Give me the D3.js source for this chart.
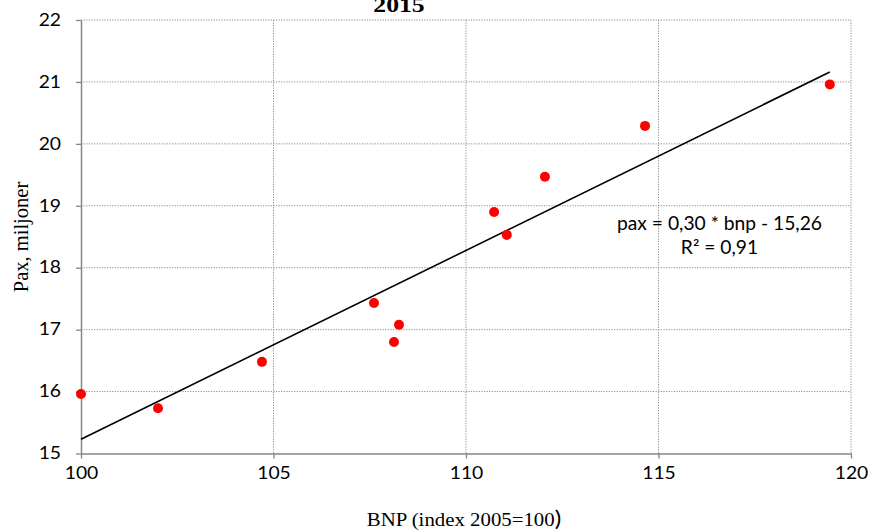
<!DOCTYPE html>
<html>
<head>
<meta charset="utf-8">
<script src="https://cdn.jsdelivr.net/npm/d3@7"></script>
<style>
  html, body { margin: 0; padding: 0; background: #fff; }
  svg { display: block; }
</style>
</head>
<body>
<svg id="chart" width="869" height="531"></svg>
<script>
// BNP index (2005 = 100) against passengers, millions
const bnp = [100.0, 102.0, 104.7, 107.61, 108.26, 108.13, 110.73, 111.06, 112.05, 114.65, 119.45];
const pax = [15.96, 15.73, 16.48, 17.43, 17.08, 16.80, 18.90, 18.53, 19.47, 20.29, 20.96];

// Linear trend line
const trendSlope = 0.3049;
const trendIntercept = -15.26;
const trendLabel = ["pax = 0,30 * bnp - 15,26", "R² = 0,91"];

const xTicks = [100, 105, 110, 115, 120];
const yTicks = [15, 16, 17, 18, 19, 20, 21, 22];

const titleText = "2015";
const xTitle = "BNP (index 2005=100";
const yTitle = "Pax, miljoner";

const svg = d3.select("#chart");
const plotLeft = 81, plotRight = 851, plotTop = 20, plotBottom = 453.5;

const x = d3.scaleLinear().domain([100, 120]).range([plotLeft, plotRight]);
const y = d3.scaleLinear().domain([15, 22]).range([plotBottom, plotTop]);

const sans = "Lato, 'Open Sans', sans-serif";
const serif = "'Liberation Serif', 'DejaVu Serif', serif";
const wide = 1.17; // horizontal widening of the lettering

// text placed at (tx, ty), widened horizontally around its anchor
function label(tx, ty, sx) {
  return svg.append("g").attr("transform", `translate(${tx},${ty}) scale(${sx},1)`)
    .append("text");
}

// dotted gridlines
const grid = svg.append("g");
grid.selectAll("line.h").data(yTicks.filter(d => d > 15)).join("line")
  .attr("x1", plotLeft).attr("x2", plotRight)
  .attr("y1", d => y(d)).attr("y2", d => y(d))
  .attr("stroke", "#8c8c8c").attr("stroke-width", 1)
  .attr("stroke-dasharray", "1.2,1.4");
grid.selectAll("line.v").data(xTicks.filter(d => d > 100)).join("line")
  .attr("x1", d => x(d)).attr("x2", d => x(d))
  .attr("y1", plotTop).attr("y2", plotBottom)
  .attr("stroke", "#8c8c8c").attr("stroke-width", 1)
  .attr("stroke-dasharray", "1.2,1.4");

// axes
const xAxis = svg.append("g")
  .attr("transform", `translate(0,${plotBottom})`)
  .call(d3.axisBottom(x).tickValues(xTicks).tickFormat(d3.format("d"))
    .tickSize(5).tickPadding(9).tickSizeOuter(0));
const yAxis = svg.append("g")
  .attr("transform", `translate(${plotLeft},0)`)
  .call(d3.axisLeft(y).tickValues(yTicks).tickFormat(d3.format("d"))
    .tickSize(5).tickPadding(18).tickSizeOuter(0));

[xAxis, yAxis].forEach(g => {
  g.select(".domain").attr("stroke", "#868686").attr("stroke-width", 1.5);
  g.selectAll(".tick line").attr("stroke", "#868686").attr("stroke-width", 1.3);
  g.selectAll(".tick text").attr("fill", "#000")
    .style("font-family", sans).style("font-size", "16.5px");
});
xAxis.selectAll(".tick text").attr("transform", `scale(${wide},1)`);
yAxis.selectAll(".tick text")
  .attr("x", -20 / wide)
  .attr("transform", `scale(${wide},1)`);

// trend line across the data range
const xExt = d3.extent(bnp);
svg.append("line")
  .attr("x1", x(xExt[0])).attr("y1", y(trendSlope * xExt[0] + trendIntercept))
  .attr("x2", x(xExt[1])).attr("y2", y(trendSlope * xExt[1] + trendIntercept))
  .attr("stroke", "#000").attr("stroke-width", 1.6);

// data points
svg.append("g").selectAll("circle").data(bnp.map((b, i) => [b, pax[i]])).join("circle")
  .attr("cx", d => x(d[0])).attr("cy", d => y(d[1]))
  .attr("r", 5).attr("fill", "#ff0000");

// trend equation
trendLabel.forEach((t, i) => {
  label(719.5, 230 + i * 24, 1.04)
    .attr("text-anchor", "middle")
    .style("font-family", sans).style("font-size", "18.5px")
    .text(t);
});

// title
label(399, 12, wide)
  .attr("text-anchor", "middle")
  .style("font-family", serif).style("font-size", "22px").style("font-weight", "bold")
  .text(titleText);

// axis titles
const xt = label(464, 526, wide)
  .attr("text-anchor", "middle")
  .style("font-family", serif).style("font-size", "17.8px");
xt.append("tspan").text(xTitle);
xt.append("tspan").style("font-family", sans).style("font-size", "21px").text(")");

svg.append("text")
  .attr("transform", "translate(28,237) rotate(-90)")
  .attr("text-anchor", "middle")
  .style("font-family", serif).style("font-size", "20.5px")
  .text(yTitle);
</script>
</body>
</html>
